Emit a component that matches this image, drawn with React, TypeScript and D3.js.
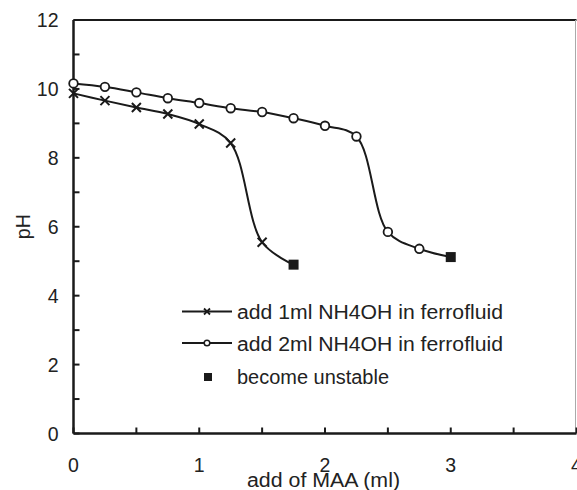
import React from "react";
import * as d3 from "d3";

const xS1 = [0, 0.25, 0.5, 0.75, 1.0, 1.25, 1.5, 1.75];
const yS1 = [9.87, 9.66, 9.46, 9.27, 8.98, 8.43, 5.55, 4.9];
const xS2 = [0, 0.25, 0.5, 0.75, 1.0, 1.25, 1.5, 1.75, 2.0, 2.25, 2.5, 2.75, 3.0];
const yS2 = [10.16, 10.06, 9.9, 9.73, 9.59, 9.44, 9.33, 9.15, 8.93, 8.62, 5.85, 5.36, 5.12];
const xTickLabels = [0, 1, 2, 3, 4];
const yTickLabels = [0, 2, 4, 6, 8, 10, 12];
const legendLabels = ["add 1ml NH4OH in ferrofluid", "add 2ml NH4OH in ferrofluid", "become unstable"];

const W = 577, H = 490;
const FONT = "'Liberation Sans', Arial, Helvetica, sans-serif";
const INK = "#1a1a1a";

export default function App() {
  const x = d3.scaleLinear().domain([0, 4]).range([73.5, 576.5]);
  const y = d3.scaleLinear().domain([0, 12]).range([433.5, 20]);
  const line = d3
    .line<[number, number]>()
    .x((d) => x(d[0]))
    .y((d) => y(d[1]))
    .curve(d3.curveCatmullRom.alpha(0.5));
  const s1: [number, number][] = xS1.map((v, i) => [v, yS1[i]]);
  const s2: [number, number][] = xS2.map((v, i) => [v, yS2[i]]);
  const xMinor = d3.range(0, 4.01, 0.5);
  const yMinor = d3.range(0, 12.01, 1);
  const cross = (cx: number, cy: number, r: number, k: string, w = 2) => (
    <path key={k} d={`M${cx - r},${cy - r}L${cx + r},${cy + r}M${cx - r},${cy + r}L${cx + r},${cy - r}`} stroke={INK} strokeWidth={w} />
  );
  const last1 = s1[s1.length - 1];
  const last2 = s2[s2.length - 1];
  const legendLen = [266, 266, 152];
  return (
    <svg width={W} height={H} style={{ position: "absolute", left: 0, top: 0, background: "#fff" }} fontFamily={FONT}>
      <rect width={W} height={H} fill="#fff" />
      {/* frame */}
      <line x1={x(0)} x2={x(4)} y1={y(12)} y2={y(12)} stroke={INK} strokeWidth={2} />
      <line x1={x(4) - 1} x2={x(4) - 1} y1={y(12)} y2={y(0)} stroke="#aaa" strokeWidth={1} />
      <line x1={x(0)} x2={x(0)} y1={y(12)} y2={y(0)} stroke={INK} strokeWidth={2.5} />
      <line x1={x(0)} x2={x(4)} y1={y(0)} y2={y(0)} stroke={INK} strokeWidth={2.5} />
      {xMinor.map((t) => (
        <line key={"xt" + t} x1={x(t)} x2={x(t)} y1={y(0)} y2={y(0) - 6} stroke={INK} strokeWidth={2} />
      ))}
      {yMinor.map((t) => (
        <line key={"yt" + t} x1={x(0)} x2={x(0) + 6} y1={y(t)} y2={y(t)} stroke={INK} strokeWidth={2} />
      ))}
      {xTickLabels.map((t) => (
        <text key={"xl" + t} x={x(t)} y={472} textAnchor="middle" fontSize={19.5} fill="#222">{t}</text>
      ))}
      {yTickLabels.map((t) => (
        <text key={"yl" + t} x={x(0) - 15} y={y(t) + 7} textAnchor="end" fontSize={19.5} fill="#222">{t}</text>
      ))}
      <text x={247} y={487} fontSize={19.5} fill="#222" textLength={153} lengthAdjust="spacingAndGlyphs">add of MAA (ml)</text>
      <text transform={`translate(30,${y(6)}) rotate(-90)`} textAnchor="middle" fontSize={19.5} fill="#222">pH</text>
      {/* series */}
      <path d={line(s1) || ""} fill="none" stroke={INK} strokeWidth={2} />
      <path d={line(s2) || ""} fill="none" stroke={INK} strokeWidth={2} />
      {s1.slice(0, -1).map((d, i) => cross(x(d[0]), y(d[1]), 4.5, "c" + i))}
      {s2.slice(0, -1).map((d, i) => (
        <circle key={"o" + i} cx={x(d[0])} cy={y(d[1])} r={4.3} fill="#fff" stroke={INK} strokeWidth={1.8} />
      ))}
      {[last1, last2].map((d, i) => (
        <rect key={"sq" + i} x={x(d[0]) - 5} y={y(d[1]) - 5} width={10} height={10} fill={INK} />
      ))}
      {/* legend */}
      <line x1={182} x2={232} y1={311.5} y2={311.5} stroke={INK} strokeWidth={2} />
      {cross(207, 311.5, 3, "lc", 1.8)}
      <line x1={182} x2={232} y1={343} y2={343} stroke={INK} strokeWidth={2} />
      <circle cx={207} cy={343} r={2.8} fill="#fff" stroke={INK} strokeWidth={1.5} />
      <rect x={204} y={373} width={8} height={8} fill={INK} />
      {legendLabels.map((l, i) => (
        <text key={l} x={237} y={318.5 + i * 32.5} fontSize={19.5} fill="#222" textLength={legendLen[i]} lengthAdjust="spacingAndGlyphs">{l}</text>
      ))}
    </svg>
  );
}
